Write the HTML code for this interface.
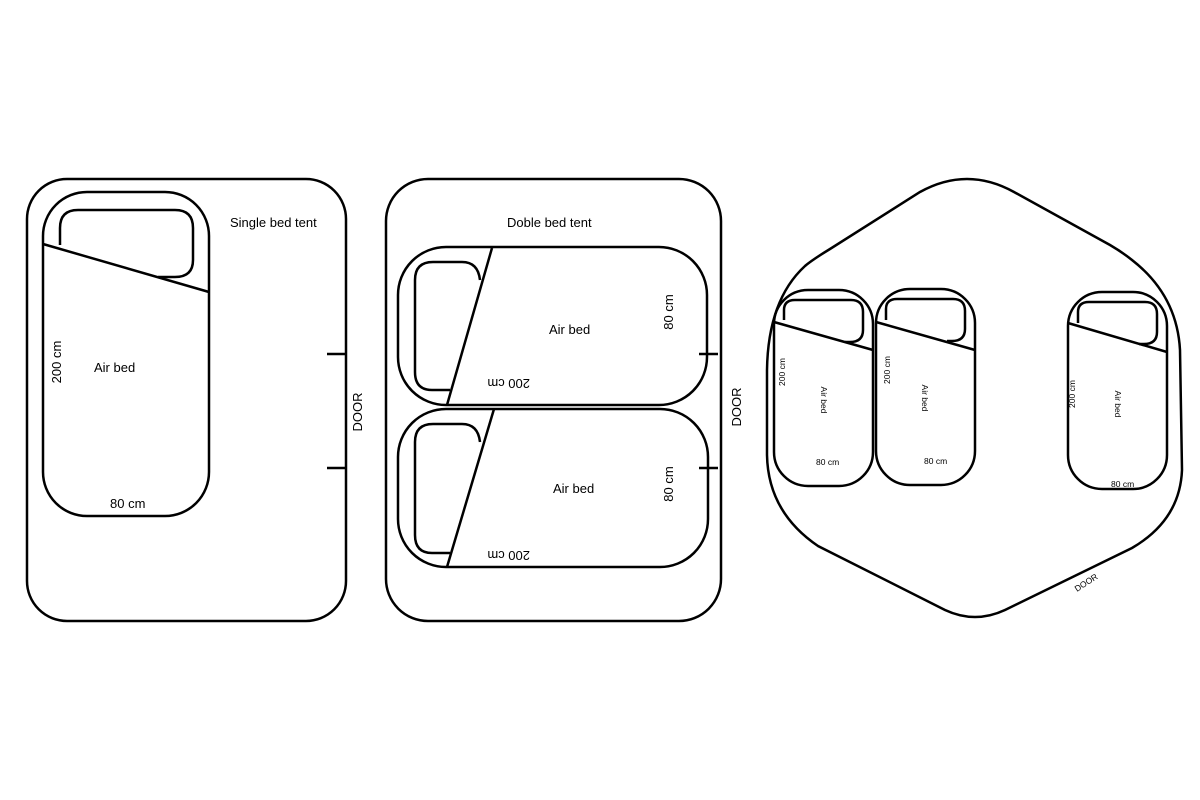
<!DOCTYPE html>
<html><head><style>html,body{margin:0;padding:0;background:#fff}svg{display:block}text{font-family:"Liberation Sans",sans-serif;fill:#000}</style></head><body>
<svg width="1200" height="800" viewBox="0 0 1200 800" xmlns="http://www.w3.org/2000/svg">
<g fill="none" stroke="#000" stroke-width="2.5">
<rect x="27" y="179" width="319" height="442" rx="40"/>
<rect x="43" y="192" width="166" height="324" rx="44"/>
<path d="M60,245 L60,228 Q60,210 78,210 L175,210 Q193,210 193,228 L193,260 Q193,277 175,277 L158,277"/>
<line x1="43" y1="244" x2="209" y2="292"/>
<line x1="327" y1="354" x2="346" y2="354"/>
<line x1="327" y1="468" x2="346" y2="468"/>
<rect x="386" y="179" width="335" height="442" rx="42"/>
<rect x="398" y="247" width="309" height="158" rx="48"/>
<rect x="398" y="409" width="310" height="158" rx="48"/>
<path d="M450,390 L432,390 Q415,390 415,372 L415,280 Q415,262 433,262 L462,262 Q478,262 480,280"/>
<path d="M450,553 L432,553 Q415,553 415,535 L415,442 Q415,424 433,424 L462,424 Q478,424 480,442"/>
<line x1="492" y1="248" x2="447" y2="405"/>
<line x1="494" y1="409" x2="447" y2="567"/>
<line x1="699" y1="354" x2="718" y2="354"/>
<line x1="699" y1="468" x2="718" y2="468"/>
<path d="M767,420 L767,370 Q768,300 805,266 Q812,260 830,249 L920,192 Q967,166 1014,192 L1110,245 Q1122,252 1132,260 Q1177,295 1180,350 L1182,470 Q1180,520 1132,548 L1005,610 Q975,624 945,610 L818,546 Q768,512 767,455 Z"/>
<rect x="774" y="290" width="99" height="196" rx="34"/>
<path d="M784,320 L784,310 Q784,300 795,300 L851,300 Q863,300 863,312 L863,330 Q863,342 850,342 L845,342"/>
<line x1="774" y1="322" x2="873" y2="350"/>
<rect x="876" y="289" width="99" height="196" rx="34"/>
<path d="M886,320 L886,309 Q886,299 897,299 L953,299 Q965,299 965,311 L965,329 Q965,341 952,341 L947,341"/>
<line x1="876" y1="322" x2="975" y2="350"/>
<rect x="1068" y="292" width="99" height="197" rx="34"/>
<path d="M1078,323 L1078,312 Q1078,302 1089,302 L1145,302 Q1157,302 1157,314 L1157,332 Q1157,344 1144,344 L1139,344"/>
<line x1="1068" y1="323" x2="1167" y2="352"/>
</g>
<g font-size="13">
<text x="230" y="227">Single bed tent</text>
<text x="94" y="372">Air bed</text>
<text x="110" y="508">80 cm</text>
<text transform="translate(61,362) rotate(-90)" text-anchor="middle">200 cm</text>
<text transform="translate(362,412) rotate(-90)" text-anchor="middle">DOOR</text>
<text x="507" y="227">Doble bed tent</text>
<text x="549" y="334">Air bed</text>
<text x="553" y="493">Air bed</text>
<text transform="translate(530,379) rotate(180)">200 cm</text>
<text transform="translate(530,551) rotate(180)">200 cm</text>
<text transform="translate(673,312) rotate(-90)" text-anchor="middle">80 cm</text>
<text transform="translate(673,484) rotate(-90)" text-anchor="middle">80 cm</text>
<text transform="translate(741,407) rotate(-90)" text-anchor="middle">DOOR</text>
</g>
<g font-size="8.5">
<text transform="translate(785,372) rotate(-90)" text-anchor="middle">200 cm</text>
<text transform="translate(890,370) rotate(-90)" text-anchor="middle">200 cm</text>
<text transform="translate(1075,394) rotate(-90)" text-anchor="middle">200 cm</text>
<text transform="translate(821,400) rotate(90)" text-anchor="middle">Air bed</text>
<text transform="translate(922,398) rotate(90)" text-anchor="middle">Air bed</text>
<text transform="translate(1115,404) rotate(90)" text-anchor="middle">Air bed</text>
<text x="816" y="465">80 cm</text>
<text x="924" y="464">80 cm</text>
<text x="1111" y="487">80 cm</text>
<text transform="translate(1077,592) rotate(-33)">DOOR</text>
</g>
</svg>
</body></html>
